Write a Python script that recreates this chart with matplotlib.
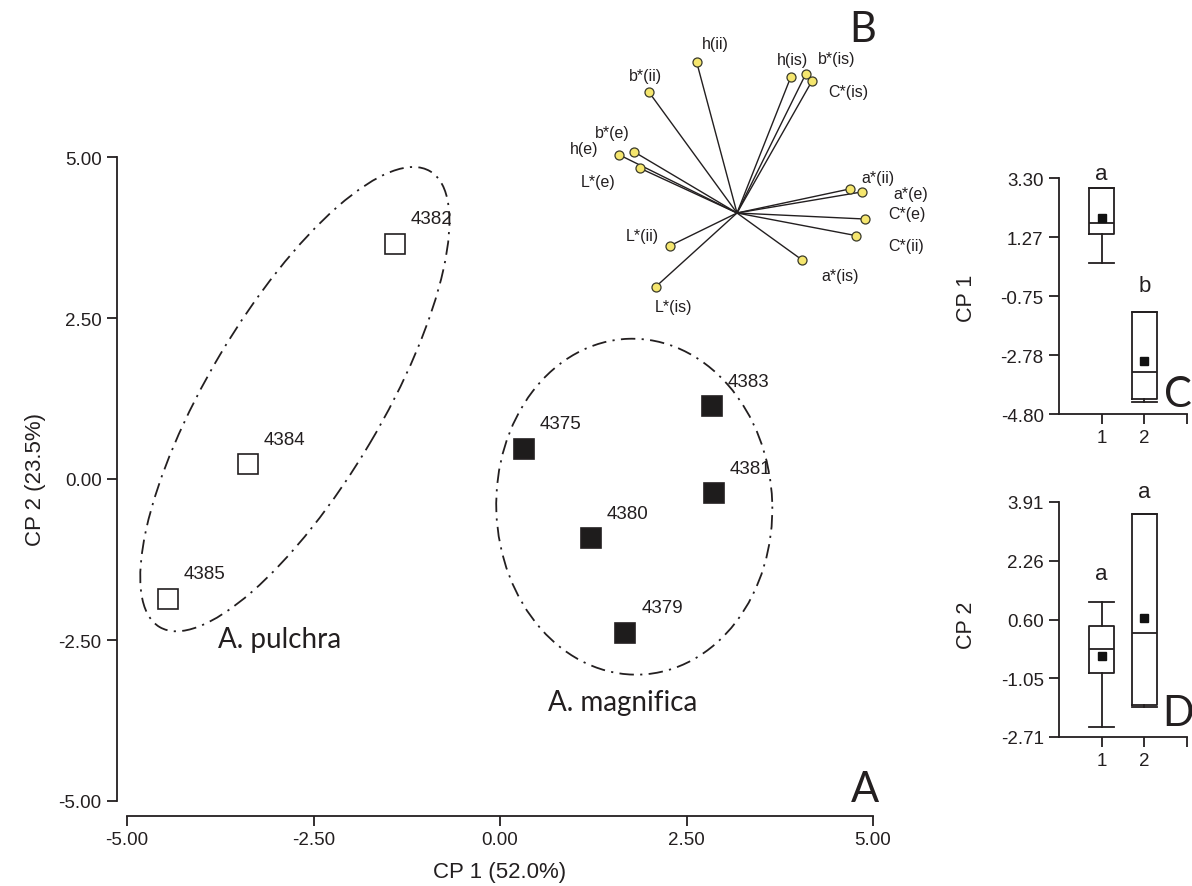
import matplotlib
matplotlib.use('Agg')
import matplotlib.pyplot as plt
from matplotlib.patches import Ellipse
from matplotlib.transforms import Affine2D, ScaledTranslation

plt.rcParams['font.family'] = ['Liberation Sans', 'DejaVu Sans']
plt.rcParams['axes.unicode_minus'] = False

# ---------------- data ----------------
sample_ids = ['4382', '4384', '4385', '4383', '4375', '4381', '4380', '4379']
sample_species = ['pulchra', 'pulchra', 'pulchra',
                  'magnifica', 'magnifica', 'magnifica', 'magnifica', 'magnifica']
cp1_scores = [-1.41, -3.38, -4.45, 2.84, 0.32, 2.87, 1.22, 1.68]
cp2_scores = [3.65, 0.23, -1.86, 1.13, 0.47, -0.22, -0.92, -2.39]

main_ticks = [-5.0, -2.5, 0.0, 2.5, 5.0]

variables = ['h(ii)', 'b*(ii)', 'h(is)', 'b*(is)', 'C*(is)', 'b*(e)', 'h(e)', 'L*(e)',
             'L*(ii)', 'L*(is)', 'a*(is)', 'C*(ii)', 'C*(e)', 'a*(e)', 'a*(ii)']
loading1 = [-0.27, -0.59, 0.36, 0.46, 0.50, -0.69, -0.79, -0.65,
            -0.45, -0.54, 0.43, 0.79, 0.85, 0.83, 0.75]
loading2 = [1.01, 0.81, 0.91, 0.93, 0.88, 0.41, 0.39, 0.30,
            -0.22, -0.49, -0.31, -0.15, -0.04, 0.14, 0.16]

box_groups = ['1', '2']
cp1_q1 = [1.38, -4.28]
cp1_med = [1.76, -3.36]
cp1_q3 = [2.96, -1.30]
cp1_lo = [0.38, -4.39]
cp1_hi = [2.96, -1.30]
cp1_mean = [1.93, -2.98]
cp1_letters = ['a', 'b']
cp1_ticks = [3.30, 1.27, -0.75, -2.78, -4.80]

cp2_q1 = [-0.91, -1.81]
cp2_med = [-0.23, 0.22]
cp2_q3 = [0.42, 3.57]
cp2_lo = [-2.43, -1.87]
cp2_hi = [1.09, 3.57]
cp2_mean = [-0.43, 0.64]
cp2_letters = ['a', 'a']
cp2_ticks = [3.91, 2.26, 0.60, -1.05, -2.71]

# ---------------- layout ----------------
W, H = 1192, 887
DPI = 100
INK = '#231f20'
LABEL_FONT = ['Lato', 'Open Sans', 'DejaVu Sans']

fig = plt.figure(figsize=(W / DPI, H / DPI), dpi=DPI)
fig.patch.set_facecolor('white')


def fx(px):
    return px / W


def fy(py):
    return 1 - py / H


def style_axes(ax, left_off, bottom_off, tick_fs):
    for s in ['top', 'right']:
        ax.spines[s].set_visible(False)
    for s in ['left', 'bottom']:
        ax.spines[s].set_linewidth(1.3)
        ax.spines[s].set_color(INK)
    ax.spines['left'].set_position(('outward', left_off))
    ax.spines['bottom'].set_position(('outward', bottom_off))
    ax.tick_params(direction='out', length=7, width=1.3, colors=INK,
                   labelsize=tick_fs, pad=4)
    ax.patch.set_alpha(0)


# ---------------- panel A ----------------
ax = fig.add_axes([fx(127), fy(802), fx(746), 644 / H])
ax.set_xlim(-5, 5)
ax.set_ylim(-5, 5)
style_axes(ax, 7.2, 10.8, 13.5)
ax.set_xticks(main_ticks)
ax.set_xticklabels(['%.2f' % t for t in main_ticks])
ax.set_yticks(main_ticks)
ax.set_yticklabels(['%.2f' % t for t in main_ticks])
ax.spines['left'].set_bounds(-5, 5)
ax.spines['bottom'].set_bounds(-5, 5)

for sid, sp, x, y in zip(sample_ids, sample_species, cp1_scores, cp2_scores):
    face = 'white' if sp == 'pulchra' else '#1e1c1c'
    ax.plot([x], [y], marker='s', ms=15, mfc=face, mec=INK, mew=1.2,
            linestyle='none', clip_on=False, zorder=3)
    ax.annotate(sid, (x, y), xytext=(16, 25), textcoords='offset pixels',
                ha='left', va='center', fontsize=13.5, color=INK, zorder=4,
                annotation_clip=False)

# group ellipses (size in pixels, centred on data points)
ell_specs = [
    # centre x, centre y (data), width px, height px, angle
    (-2.75, 1.24, 530, 174, 59.3),
    (1.80, -0.43, 336, 276, 92.0),
]
for cx, cy, w, h, ang in ell_specs:
    tr = Affine2D() + ScaledTranslation(cx, cy, ax.transData)
    e = Ellipse((0, 0), w, h, angle=ang, fill=False, edgecolor=INK,
                lw=1.3, transform=tr, clip_on=False, zorder=2)
    e.set_linestyle((0, (8, 3.5, 1.2, 3.5)))
    ax.add_patch(e)

ax.text(-3.78, -2.48, 'A. pulchra', fontsize=20, family=LABEL_FONT,
        ha='left', va='center', color=INK)
ax.text(0.64, -3.46, 'A. magnifica', fontsize=20, family=LABEL_FONT,
        ha='left', va='center', color=INK)

fig.text(fx(500), fy(873), 'CP 1 (52.0%)', fontsize=16, ha='center',
         va='center', color=INK)
fig.text(fx(35), fy(480), 'CP 2 (23.5%)', fontsize=16, ha='center',
         va='center', rotation=90, color=INK)

# ---------------- panel B (loadings) ----------------
axb = fig.add_axes([fx(587), fy(364), fx(300), 300 / H])
axb.set_xlim(-1, 1)
axb.set_ylim(-1, 1)
axb.axis('off')
label_offsets = {
    'h(ii)': (19, 18), 'b*(ii)': (-3, 16), 'h(is)': (2, 17), 'b*(is)': (31, 15),
    'C*(is)': (36, -10), 'b*(e)': (-21, 19), 'h(e)': (-34, 6), 'L*(e)': (-41, -14),
    'L*(ii)': (-27, 10), 'L*(is)': (17, -20), 'a*(is)': (39, -16),
    'C*(ii)': (51, -10), 'C*(e)': (42, 5), 'a*(e)': (49, -2), 'a*(ii)': (28, 12),
}
for name, lx, ly in zip(variables, loading1, loading2):
    axb.plot([0, lx], [0, ly], color=INK, lw=1.0, clip_on=False, zorder=2)
    axb.plot([lx], [ly], marker='o', ms=6.5, mfc='#f5e66e', mec='#3a3a2a',
             mew=0.9, clip_on=False, zorder=3)
    dx, dy = label_offsets[name]
    axb.annotate(name, (lx, ly), xytext=(dx, dy), textcoords='offset pixels',
                 ha='center', va='center', fontsize=11.5, color=INK,
                 annotation_clip=False)


# ---------------- panels C and D (box plots) ----------------
def box_panel(rect, ticks, q1, med, q3, lo, hi, mean, letters, letter_gap, ylabel, ylabel_y):
    axc = fig.add_axes(rect)
    stats = []
    for i, g in enumerate(box_groups):
        stats.append(dict(label=g, q1=q1[i], med=med[i], q3=q3[i],
                          whislo=lo[i], whishi=hi[i], mean=mean[i], fliers=[]))
    lp = dict(color=INK, lw=1.3)
    axc.bxp(stats, positions=[1, 2], widths=0.6, capwidths=0.6,
            showmeans=True, showfliers=False,
            boxprops=lp, whiskerprops=lp, capprops=lp, medianprops=lp,
            meanprops=dict(marker='s', mfc='#111111', mec='#111111', ms=6))
    axc.set_xlim(0, 3)
    axc.set_ylim(ticks[-1], ticks[0])
    style_axes(axc, 0, 0, 13.5)
    axc.spines['left'].set_bounds(ticks[-1], ticks[0])
    axc.spines['bottom'].set_bounds(0, 3)
    axc.set_yticks(ticks)
    axc.set_yticklabels(['%.2f' % t for t in ticks])
    axc.set_xticks([1, 2, 3])
    axc.set_xticklabels(box_groups + [''])
    for i, (let, gap) in enumerate(zip(letters, letter_gap)):
        top = max(q3[i], hi[i])
        axc.annotate(let, (i + 1, top), xytext=(0, gap), textcoords='offset pixels',
                     ha='center', va='baseline', fontsize=16, color=INK,
                     annotation_clip=False)
    fig.text(fx(967), fy(ylabel_y), ylabel, fontsize=15.5, rotation=90,
             ha='center', va='center', color=INK)
    return axc


box_panel([fx(1059), fy(415), fx(128), 236 / H], cp1_ticks, cp1_q1, cp1_med, cp1_q3,
          cp1_lo, cp1_hi, cp1_mean, cp1_letters, [9, 21], 'CP 1', 298)
box_panel([fx(1059), fy(738), fx(128), 235 / H], cp2_ticks, cp2_q1, cp2_med, cp2_q3,
          cp2_lo, cp2_hi, cp2_mean, cp2_letters, [23, 17], 'CP 2', 625)

# ---------------- panel letters ----------------
for letter, px, py in [('A', 865, 790), ('B', 863, 30), ('C', 1178, 395), ('D', 1178, 714)]:
    fig.text(fx(px), fy(py), letter, fontsize=30, family=LABEL_FONT,
             ha='center', va='center', color=INK)

fig.savefig('out.png', dpi=DPI)
